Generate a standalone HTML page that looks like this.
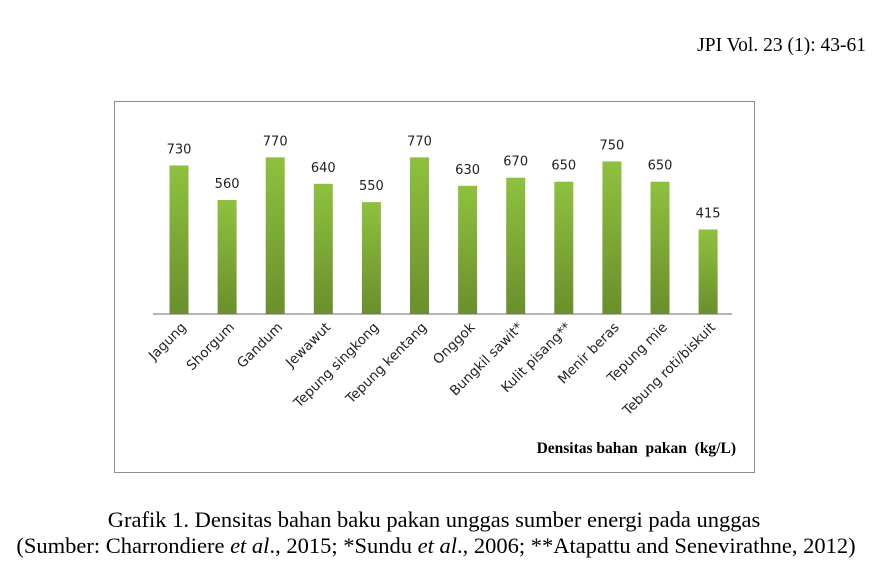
<!DOCTYPE html>
<html><head><meta charset="utf-8"><style>
body{margin:0;background:#fff;}
svg{display:block;}
</style></head><body>
<svg width="881" height="579" xmlns="http://www.w3.org/2000/svg">
<defs><linearGradient id="g" x1="0" y1="0" x2="0" y2="1">
<stop offset="0" stop-color="#8fc13f"/><stop offset="1" stop-color="#6a8f2c"/></linearGradient></defs>
<text x="866" y="51" text-anchor="end" font-family="Liberation Serif, serif" font-size="19.5">JPI Vol. 23 (1): 43-61</text>
<rect x="114.5" y="101.5" width="640" height="371" fill="none" stroke="#8c8c8c" stroke-width="1"/>
<line x1="153" y1="314" x2="732" y2="314" stroke="#868686" stroke-width="1.2"/>
<g fill="url(#g)">
<rect x="169.5" y="165.4" width="19" height="148.6"/>
<rect x="217.6" y="200" width="19" height="114"/>
<rect x="265.7" y="157.3" width="19" height="156.7"/>
<rect x="313.8" y="183.8" width="19" height="130.2"/>
<rect x="361.9" y="202.1" width="19" height="111.9"/>
<rect x="410" y="157.3" width="19" height="156.7"/>
<rect x="458.1" y="185.8" width="19" height="128.2"/>
<rect x="506.2" y="177.7" width="19" height="136.3"/>
<rect x="554.3" y="181.7" width="19" height="132.3"/>
<rect x="602.4" y="161.4" width="19" height="152.6"/>
<rect x="650.5" y="181.7" width="19" height="132.3"/>
<rect x="698.6" y="229.5" width="19" height="84.5"/>
</g>
<g font-family="DejaVu Sans, sans-serif" font-size="13" fill="#222" text-anchor="middle">
<text x="179" y="153.4">730</text>
<text x="227.1" y="188">560</text>
<text x="275.2" y="145.3">770</text>
<text x="323.3" y="171.8">640</text>
<text x="371.4" y="190.1">550</text>
<text x="419.5" y="145.3">770</text>
<text x="467.6" y="173.8">630</text>
<text x="515.7" y="165.7">670</text>
<text x="563.8" y="169.7">650</text>
<text x="611.9" y="149.4">750</text>
<text x="660" y="169.7">650</text>
<text x="708.1" y="217.5">415</text>
</g>
<g font-family="DejaVu Sans, sans-serif" font-size="13.5" fill="#222" text-anchor="end">
<text transform="translate(187,328) rotate(-45)">Jagung</text>
<text transform="translate(235.1,328) rotate(-45)">Shorgum</text>
<text transform="translate(283.2,328) rotate(-45)">Gandum</text>
<text transform="translate(331.3,328) rotate(-45)">Jewawut</text>
<text transform="translate(379.4,328) rotate(-45)">Tepung singkong</text>
<text transform="translate(427.5,328) rotate(-45)">Tepung kentang</text>
<text transform="translate(475.6,328) rotate(-45)">Onggok</text>
<text transform="translate(523.7,328) rotate(-45)">Bungkil sawit*</text>
<text transform="translate(571.8,328) rotate(-45)">Kulit pisang**</text>
<text transform="translate(619.9,328) rotate(-45)">Menir beras</text>
<text transform="translate(668,328) rotate(-45)">Tepung mie</text>
<text transform="translate(716.1,328) rotate(-45)">Tebung roti/biskuit</text>
</g>
<text x="736" y="453" text-anchor="end" font-family="Liberation Serif, serif" font-weight="bold" font-size="15.5">Densitas bahan&#160; pakan&#160; (kg/L)</text>
<text x="434" y="527" text-anchor="middle" font-family="Liberation Serif, serif" font-size="22.5">Grafik 1. Densitas bahan baku pakan unggas sumber energi pada unggas</text>
<text x="436" y="553" text-anchor="middle" font-family="Liberation Serif, serif" font-size="22.5">(Sumber: Charrondiere <tspan font-style="italic">et al</tspan>., 2015; *Sundu <tspan font-style="italic">et al</tspan>., 2006; **Atapattu and Senevirathne, 2012)</text>
</svg>
</body></html>
